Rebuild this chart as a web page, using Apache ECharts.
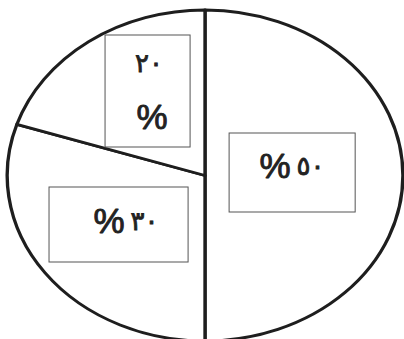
<!DOCTYPE html>
<html lang="ar">
<head>
  <meta charset="UTF-8">
  <title>Pie</title>
  <style>
    html, body { margin: 0; padding: 0; background: #fff; overflow: hidden; }
    #wrap { width: 404px; height: 339px; position: relative; overflow: hidden; }
    /* the drawing is an ellipse, so the circular pie is stretched sideways */
    #pie { width: 338px; height: 339px; transform: scaleX(1.1953); transform-origin: 0 0; }
  </style>
</head>
<body>
  <div id="wrap"><div id="pie"></div></div>

  <script src="https://cdn.jsdelivr.net/npm/echarts@6/dist/echarts.min.js"></script>
  <script>
    // slice values, clockwise from the top
    var sliceNames = ['50', '30', '20'];
    var sliceValues = [50, 30, 20];
    // label texts written in the boxes (percent sign, arabic-indic digits)
    var pct = '%';
    var digits50 = '٥٠';
    var digits30 = '٣٠';
    var digits20 = '٢٠';

    var k = 404 / 338;
    var myChart = echarts.init(document.getElementById('pie'), null, { renderer: 'svg' });

    // graphic text uses zrender style names: fill / stroke / lineWidth
    var richStyle = {
      p: {
        fontSize: 35, fontFamily: '"Liberation Sans", Arial, sans-serif',
        fill: '#222', stroke: '#222', lineWidth: 0.9
      },
      d: {
        fontSize: 26, fontFamily: '"DejaVu Sans", sans-serif',
        fill: '#222', stroke: '#222', lineWidth: 0.8, padding: [0, 0, 0, 6]
      }
    };

    function box(x, y, w, h) {
      return {
        type: 'rect',
        z: 100,
        shape: { x: x, y: y, width: w, height: h },
        style: { fill: 'none', stroke: '#555', lineWidth: 1 }
      };
    }
    function txt(t, x, y) {
      return {
        type: 'text',
        z: 100,
        x: x, y: y,
        style: {
          text: t,
          rich: richStyle,
          align: 'center',
          verticalAlign: 'middle'
        }
      };
    }

    var option = {
      animation: false,
      backgroundColor: '#fff',
      series: [
        {
          type: 'pie',
          center: [205 / k, 175.5],
          radius: [0, 165.5],
          startAngle: 90,
          clockwise: true,
          silent: true,
          z: 1,
          label: { show: false },
          labelLine: { show: false },
          emphasis: { disabled: true },
          itemStyle: {
            color: '#fff',
            borderColor: '#1e1e1e',
            borderWidth: 2.8
          },
          data: sliceValues.map(function (v, i) {
            return { name: sliceNames[i], value: v };
          })
        }
      ],
      graphic: [
        {
          type: 'group',
          x: 0, y: 0,
          z: 100,
          scaleX: 1 / k,
          children: [
            box(105, 35, 85, 112),
            box(229, 133, 126, 79),
            box(49, 187, 139, 75),
            txt('{d|' + digits20 + '}', 146, 63),
            txt('{p|' + pct + '}', 152, 117),
            txt('{p|' + pct + '}{d|' + digits50 + '}', 292, 166),
            txt('{p|' + pct + '}{d|' + digits30 + '}', 126, 221)
          ]
        }
      ]
    };

    myChart.setOption(option);
  </script>
</body>
</html>
